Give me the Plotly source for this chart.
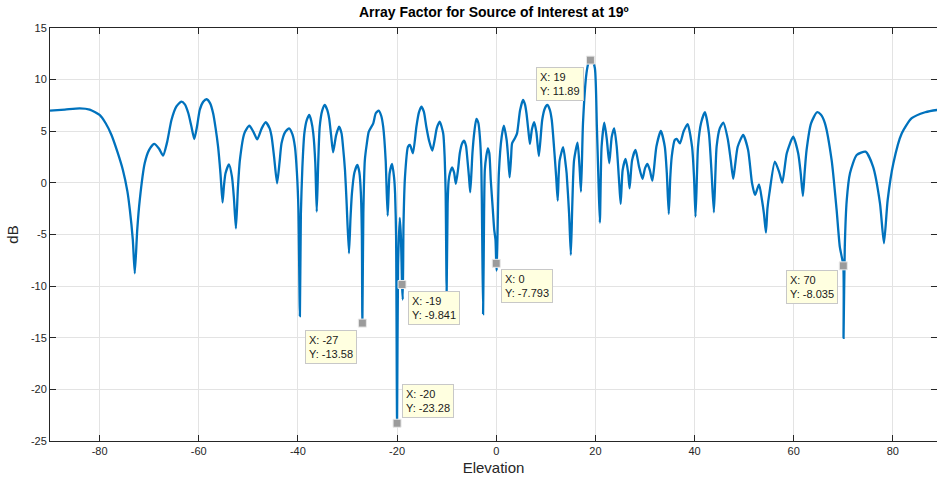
import plotly.graph_objects as go

# Array factor (dB) versus elevation angle (degrees)
elevation = [
    -90, -87, -84, -82, -80, -78.8, -77.6, -76.4, -75.3, -74.4, -73.9, -73.3, -72.9, -72.4, -71.9,
    -70.9, -70.0, -69.0, -68.0, -67.2, -66.4, -65.5, -64.5, -63.5, -62.8, -62.1, -61.5, -60.9,
    -60.3, -59.8, -59.1, -58.4, -57.7, -57.1, -56.6, -56.1, -55.6, -55.2, -54.9, -54.6, -53.9,
    -53.3, -52.9, -52.5, -52.1, -51.7, -50.8, -49.8, -49.0, -48.2, -47.3, -46.5, -45.7, -45.3,
    -44.8, -44.2, -43.7, -43.3, -42.6, -41.8, -41.1, -40.6, -40.2, -39.9, -39.6, -39.4, -39.1,
    -38.7, -38.2, -37.7, -37.3, -36.9, -36.5, -36.2, -35.9, -35.6, -35.1, -34.6, -34.1, -33.7,
    -33.3, -32.9, -32.3, -31.7, -31.2, -30.9, -30.5, -30.2, -29.7, -29.4, -29.1, -28.6, -28.0,
    -27.6, -27.3, -27.1, -27.0, -26.8, -26.5, -26.1, -25.7, -24.8, -24.3, -23.7, -23.2, -22.8,
    -22.3, -21.9, -21.5, -21.0, -20.6, -20.4, -20.2, -20.0, -19.8, -19.45, -19.2, -19.0, -18.85,
    -18.7, -18.4, -17.8, -17.4, -16.8, -16.1, -15.6, -15.1, -14.6, -14.1, -13.5, -12.9, -12.4,
    -12.0, -11.4, -10.7, -10.4, -10.2, -10.0, -9.8, -9.6, -9.35, -8.9, -8.5, -8.15, -7.7, -7.35,
    -6.9, -6.5, -6.1, -5.8, -5.5, -5.25, -5.0, -4.8, -4.4, -4.0, -3.6, -3.3, -3.0, -2.85, -2.65,
    -2.45, -2.3, -2.0, -1.7, -1.4, -1.1, -0.7, -0.4, -0.15, 0.0, 0.1, 0.3, 0.53, 1.1, 1.55, 2.1,
    2.4, 2.7, 3.0, 3.2, 3.76, 4.2, 4.8, 5.4, 5.8, 6.1, 6.5, 6.8, 7.2, 7.65, 8.1, 8.6, 9.27, 9.8,
    10.3, 10.8, 11.2, 11.8, 12.1, 12.4, 12.6, 12.8, 13.5, 14.0, 14.2, 14.7, 15.05, 15.35, 15.7,
    16.4, 16.8, 17.1, 17.5, 18.2, 18.6, 19.0, 19.4, 19.9, 20.3, 20.6, 20.9, 21.25, 21.8, 22.3,
    22.8, 23.3, 23.8, 24.3, 24.8, 25.1, 25.5, 26.1, 26.6, 26.9, 27.4, 28.1, 28.8, 29.5, 30.0,
    30.5, 31.0, 31.5, 32.3, 33.2, 34.0, 34.4, 34.8, 35.1, 35.4, 36.0, 36.4, 37.05, 37.8, 38.6,
    39.5, 39.9, 40.2, 40.5, 40.7, 41.3, 42.1, 42.9, 43.4, 43.9, 44.2, 44.45, 45.1, 45.8, 46.7,
    47.3, 47.8, 48.2, 48.7, 49.8, 50.8, 51.6, 52.2, 53.0, 53.6, 54.0, 54.4, 54.7, 55.1, 56.2,
    57.1, 57.7, 58.6, 59.9, 60.9, 61.4, 61.85, 62.2, 62.6, 63.5, 64.7, 65.5, 66.3, 67.65, 68.65,
    69.3, 70.0, 70.05, 70.3, 70.7, 71.35, 72.7, 74.5, 76.0, 77.4, 78.2, 78.95, 80.1, 81.8, 83.8,
    86.5, 88.9, 90.0,
]
af_db = [
    7.0, 7.1, 7.22, 7.1, 6.58, 5.8, 4.64, 3.0, 1.25, -0.8, -2.6, -5.5, -8.76, -4.5, -1.66,
    1.9, 3.2, 3.77, 3.3, 2.64, 3.9, 6.09, 7.4, 7.87, 7.6, 6.74, 5.5, 4.25,
    5.6, 7.06, 7.85, 8.1, 7.7, 6.74, 5.3, 3.5, 0.8, -1.91, -0.2, 0.93, 1.8,
    0.6, -1.5, -4.4, -0.5, 2.2, 4.8, 5.54, 4.96, 4.22, 5.28, 5.87, 5.28, 4.47,
    2.5, -0.04, 2.0, 3.83, 4.9, 5.28, 4.7, 3.5, 1.0, -2.5, -12.9, -3.0, 1.5,
    4.8, 6.1, 6.58, 6.0, 4.8, 2.0, -2.79, 2.0, 5.44, 7.0, 7.54, 7.1, 6.26,
    4.6, 2.96, 4.6, 5.44, 4.8, 3.5, 1.2, -1.66, -6.82, -3.5, -1.0, 1.0, 1.73,
    1.0, -1.0, -5.0, -13.58, -3.0, 2.2, 3.8, 4.96, 5.77, 6.74, 7.0, 6.5, 5.44,
    2.2, -3.17, 0.93, 1.83, 0.5, -1.0, -5.0, -23.28, -8.0, -3.4, -5.5, -9.841, -11.3,
    -4.0, 0.6, 3.5, 3.67, 2.87, 5.44, 6.8, 7.38, 6.9, 5.44, 4.0, 3.12, 4.2,
    5.28, 5.93, 4.8, 2.5, -1.0, -10.5, -2.0, 0.2, 0.93, 1.5, 1.0, -0.1, 1.3, 2.87,
    3.8, 4.09, 3.6, 2.2, 0.6, -0.91, 1.0, 2.87, 5.0, 6.19, 5.8, 4.47, 1.5, -4.24, -12.7,
    -3.0, 1.25, 2.6, 3.35, 2.9, 0.28, -2.5, -4.56, -5.5, -7.793, -8.5, -4.0, 0.93, 4.47, 5.54, 4.15,
    2.5, 0.54, 2.5, 3.83, 4.32, 4.8, 7.0, 8.03, 7.6, 6.74, 5.0, 3.77, 5.2, 5.87, 4.9, 2.6, 6.09, 7.2,
    7.54, 7.1, 6.09, 2.54, 0.5, -1.72, 0.8, 2.2, 3.45, 1.8, 0.93, -3.0, -6.98, -2.0, 2.2,
    3.9, 1.57, -0.85, 5.77, 10.6, 11.6, 11.89, 11.8, 11.1, 5.44, 0.6, -3.85, 3.5, 5.83, 4.25,
    1.9, 4.47, 5.28, 3.5, 0.0, -2.04, 1.25, 2.32, 1.0, -0.53, 2.2, 3.19, 1.57, 0.38, 1.4,
    1.83, 1.2, 0.21, 3.5, 5.03, 3.5, 1.0, -3.0, 0.5, 2.54, 4.15, 4.25, 3.83, 5.0, 5.7,
    3.5, 0.5, -3.27, 1.0, 3.5, 5.77, 6.84, 4.8, 1.25, -2.85, 0.8, 3.5, 5.3, 5.83, 4.25,
    2.2, 0.38, 1.8, 3.5, 4.64, 3.19, -0.04, -1.17, -0.14, -1.66, -3.0, -4.82, -2.5, -1.0, 2.05,
    1.0, 0.02, 2.87, 4.47, 2.87, 1.0, -1.27, 1.0, 3.19, 5.77, 6.84, 6.6, 5.77, 2.2, -2.6,
    -6.2, -8.035, -15.0, -6.2, -1.66, 0.93, 2.7, 3.02, 1.57, -1.98, -5.85, -1.66, 1.9, 4.8, 6.26,
    6.84, 7.06, 7.1,
]

# Data tips: (x, y, horizontal anchor, x shift px, y shift px, vertical anchor)
tip_x = [19, 0, -19, -27, -20, 70]
tip_y = [11.89, -7.793, -9.841, -13.58, -23.28, -8.035]
tip_xanchor = ["right", "left", "left", "right", "left", "right"]
tip_xshift = [-6, 5, 6, -5, 5, -5]
tip_yanchor = ["top", "top", "top", "top", "bottom", "top"]
tip_yshift = [-7, -6, -7, -7, 5, -4]

x_ticks = [-80, -60, -40, -20, 0, 20, 40, 60, 80]
y_ticks = [-25, -20, -15, -10, -5, 0, 5, 10, 15]

FONT = "Liberation Sans, Arial, Helvetica, sans-serif"

fig = go.Figure()
fig.add_trace(go.Scatter(
    x=elevation, y=af_db, mode="lines",
    line=dict(color="#0072BD", width=2.3, shape="spline", smoothing=0.6),
    hoverinfo="x+y", showlegend=False,
))
fig.add_trace(go.Scatter(
    x=tip_x, y=tip_y, mode="markers",
    marker=dict(symbol="square", size=8, color="#9b9b9b", line=dict(color="#e8e8e8", width=1)),
    hoverinfo="skip", showlegend=False,
))

for x, y, xa, xs, ya, ys in zip(tip_x, tip_y, tip_xanchor, tip_xshift, tip_yanchor, tip_yshift):
    fig.add_annotation(
        x=x, y=y, xref="x", yref="y", showarrow=False,
        text=f"X: {x:g}<br>Y: {y:g}", align="left",
        xanchor=xa, yanchor=ya, xshift=xs, yshift=ys,
        font=dict(family=FONT, size=11, color="#1a1a1a"),
        bgcolor="#FFFFE0", bordercolor="#c8c8c8", borderwidth=1, borderpad=3,
    )

fig.add_annotation(
    x=0.5, y=12, xref="paper", yref="paper", yanchor="middle", showarrow=False,
    text="<b>Array Factor for Source of Interest at 19º</b>",
    font=dict(family=FONT, size=14, color="#000000"),
)
# position the title in pixels from the top of the figure
fig.layout.annotations[-1].update(yref="paper", y=1 + (28 - 12) / 413)

axis_common = dict(
    showgrid=True, gridcolor="#e3e3e3", gridwidth=1,
    zeroline=False, showline=True, linecolor="#262626", linewidth=1,
    mirror="ticks", ticks="inside", ticklen=6, tickcolor="#262626",
    tickfont=dict(family=FONT, size=11, color="#262626"),
)
fig.update_xaxes(
    range=[-90, 88.9], tickvals=x_ticks, ticktext=[str(v) for v in x_ticks],
    title=dict(text="Elevation", font=dict(family=FONT, size=15, color="#262626"), standoff=6),
    **axis_common,
)
fig.update_yaxes(
    range=[-25, 15], tickvals=y_ticks, ticktext=[str(v) for v in y_ticks],
    title=dict(text="dB", font=dict(family=FONT, size=15, color="#262626"), standoff=8),
    **axis_common,
)
fig.update_layout(
    width=937, height=481,
    margin=dict(l=50, r=0, t=28, b=40),
    plot_bgcolor="white", paper_bgcolor="white",
    font=dict(family=FONT),
)

fig.write_html("out.html")
